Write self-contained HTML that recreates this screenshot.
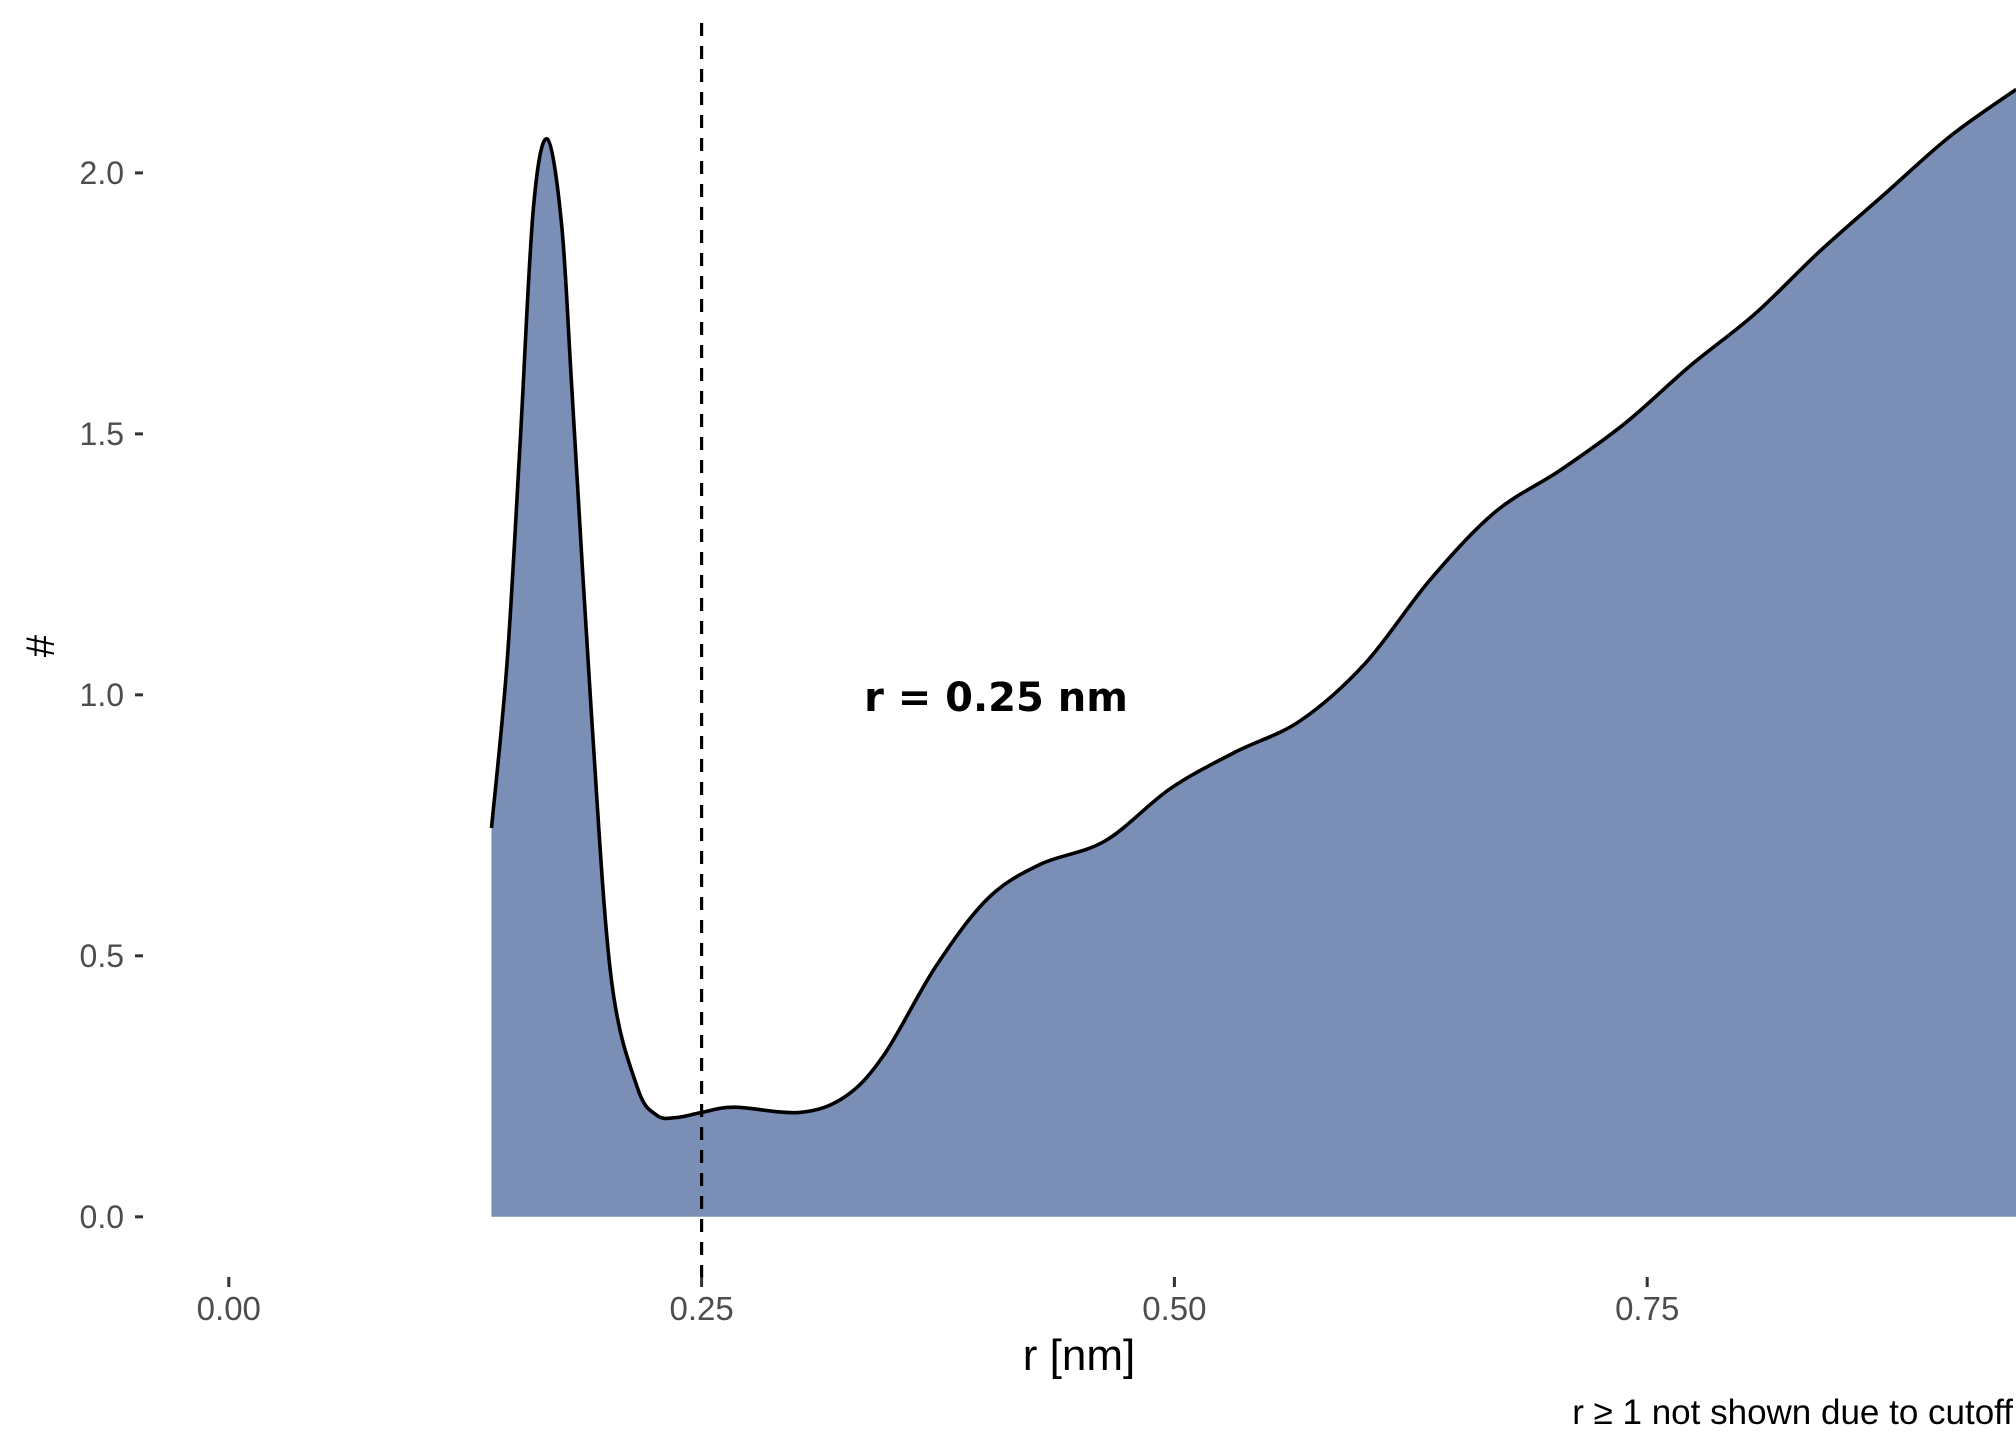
<!DOCTYPE html>
<html><head><meta charset="utf-8"><style>
html,body{margin:0;padding:0;background:#fff;}
svg{display:block;font-family:"Liberation Sans",sans-serif;}
</style></head><body>
<svg id="chart" width="2016" height="1440" viewBox="0 0 2016 1440" xmlns="http://www.w3.org/2000/svg">
<g id="plot"></g>
</svg>
<script>
const rValues = [0.1389,0.1471,0.154,0.161,0.1684,0.176,0.1815,0.1918,0.2021,0.2158,0.2261,0.2365,0.2502,0.2674,0.3018,0.3258,0.3464,0.3739,0.4014,0.4289,0.4633,0.4977,0.532,0.5664,0.6008,0.6351,0.6695,0.7039,0.7382,0.7726,0.807,0.8413,0.8757,0.9101,0.9451];
const countValues = [0.745,1.06,1.48,1.93,2.065,1.9,1.58,0.96,0.46,0.25,0.195,0.19,0.2,0.21,0.2,0.23,0.31,0.48,0.61,0.675,0.72,0.82,0.89,0.95,1.06,1.22,1.35,1.43,1.52,1.63,1.73,1.85,1.96,2.07,2.16];
const xTicks = [0,0.25,0.5,0.75];
const xTickLabels = ["0.00","0.25","0.50","0.75"];
const yTicks = [0,0.5,1,1.5,2];
const yTickLabels = ["0.0","0.5","1.0","1.5","2.0"];
const cutoffR = [0.25];

const NS="http://www.w3.org/2000/svg";
const X=v=>228.8+v*1891.2;
const Y=v=>1216.8-v*521.95;
const g=document.getElementById('plot');
function mk(tag,attrs,parent){const e=document.createElementNS(NS,tag);for(const k in attrs)e.setAttribute(k,attrs[k]);(parent||g).appendChild(e);return e;}

const pts=rValues.map((r,i)=>[X(r),Y(countValues[i])]);
let d=`M${pts[0][0]},${pts[0][1]}`;
for(let i=0;i<pts.length-1;i++){
  const p0=pts[Math.max(0,i-1)],p1=pts[i],p2=pts[i+1],p3=pts[Math.min(pts.length-1,i+2)];
  const c1=[p1[0]+(p2[0]-p0[0])/6,p1[1]+(p2[1]-p0[1])/6];
  const c2=[p2[0]-(p3[0]-p1[0])/6,p2[1]-(p3[1]-p1[1])/6];
  d+=` C${c1[0]},${c1[1]} ${c2[0]},${c2[1]} ${p2[0]},${p2[1]}`;
}
const last=pts[pts.length-1];
const area=mk('path',{d:d+` L${last[0]},${Y(0)} L${pts[0][0]},${Y(0)} Z`,fill:'#7a8eb6',stroke:'none'});


const line=mk('path',{d:d,fill:'none',stroke:'#000','stroke-width':3.6});



cutoffR.forEach(c=>{
  const v=mk('line',{x1:X(c),x2:X(c),y1:23,y2:1288,stroke:'#000','stroke-width':3.2,'stroke-dasharray':'13,10'});
  
  
});

yTicks.forEach((t,i)=>{
  const tk=mk('line',{x1:135,x2:143,y1:Y(t),y2:Y(t),stroke:'#333','stroke-width':3});
  
  
  const tx=mk('text',{x:124,y:Y(t)+11,'text-anchor':'end','font-size':32,fill:'#4d4d4d'});
  tx.textContent=yTickLabels[i];
  
  
});
xTicks.forEach((t,i)=>{
  const tk=mk('line',{x1:X(t),x2:X(t),y1:1277,y2:1287,stroke:'#333','stroke-width':3});
  
  
  const tx=mk('text',{x:X(t),y:1320,'text-anchor':'middle','font-size':33,fill:'#4d4d4d'});
  tx.textContent=xTickLabels[i];
  
  
});
</script>
<svg style="position:absolute;left:0;top:0" width="2016" height="1440" xmlns="http://www.w3.org/2000/svg" font-family="Liberation Sans, sans-serif">
<text x="996" y="711" text-anchor="middle" font-size="40" font-weight="bold" fill="#000" font-family="DejaVu Sans, sans-serif">r = 0.25 nm</text>
<text x="1079" y="1370" text-anchor="middle" font-size="44" fill="#000">r [nm]</text>
<text x="54" y="646" text-anchor="middle" font-size="40" fill="#000" transform="rotate(-90 54 646)">#</text>
<text x="2013" y="1424" text-anchor="end" font-size="35" fill="#000">r ≥ 1 not shown due to cutoff</text>
</svg>
</body></html>
